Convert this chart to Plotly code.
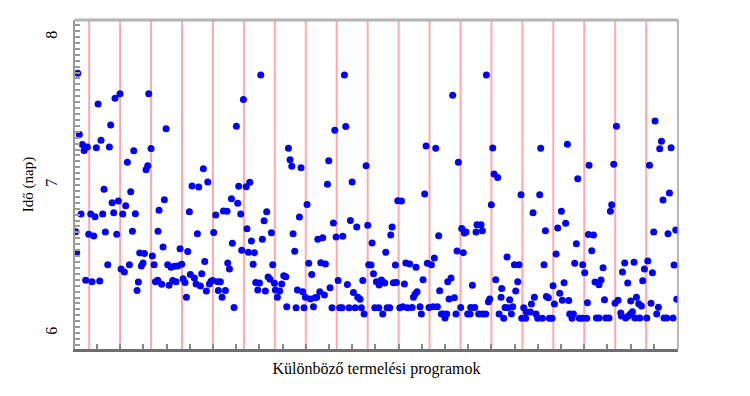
import plotly.graph_objects as go

# Program index (x) and time in days (y) for each simulated run
x_vals = [
    5.2, 59.9, 53.4, 97.0, 31.5, 47.8, 7.3, 35.3, 11.2, 17.7, 13.4, 29.3, 46.1, 77.6, 100.0, 69.4, 95.7, 93.5,
    39.2, 73.7, 57.8, 49.6, 67.2, 9.5, 22.0, 27.6, 37.5, 51.7, 63.4, 79.7, 110.3, 2.6, 19.4, 25.9, 40.9, 55.6,
    75.9, 109.0, 3.9, 85.3, 91.4, 101.7, 44.0, 61.2, 65.5, 72.0, 89.6, 87.5, 103.9, 15.5, 23.7, 33.6, 83.6,
    81.9, 105.6, 108.6,
    119.4, 219.4, 210.3, 167.6, 173.3, 153.0, 161.6, 213.3, 223.0, 117.2, 149.5, 203.9, 212.0, 183.6, 193.5,
    198.2, 215.9, 159.9, 181.0, 224.0, 115.5, 137.5, 147.4, 205.1, 217.2, 121.5, 125.8, 130.1, 134.5, 139.6,
    169.4, 199.1, 201.3, 113.8, 123.3, 128.0, 132.3, 141.4, 143.9, 150.8, 156.0, 158.2, 163.8, 165.5, 171.5,
    175.4, 177.6, 179.7, 186.2, 189.6, 187.0, 196.1, 191.8, 145.7, 207.3,
    241.8, 227.6, 249.5, 246.1, 255.6, 229.7, 243.9, 225.8, 233.6, 231.9, 257.3, 235.3, 240.1, 251.3, 253.8,
    259.5, 237.9, 247.8, 260.7, 266.3, 263.3, 268.9, 271.5, 274.1, 277.6, 279.7, 281.9, 293.9, 329.7, 328.0,
    301.7, 291.8, 283.6, 285.7, 315.5, 321.9, 335.7, 303.8, 307.7, 319.4, 325.4, 289.2, 296.1, 299.5, 306.0,
    312.0, 314.2, 318.1, 324.1, 331.4, 275.4, 287.5, 297.8, 309.9, 333.9,
    350.0, 337.5, 351.7, 378.0, 359.9, 339.2, 347.8, 357.7, 365.9, 380.1, 385.7, 418.9, 423.7, 411.6, 409.9,
    403.4, 415.9, 381.4, 384.4, 387.5, 341.8, 353.8, 373.7, 361.6, 367.2, 370.2, 391.3, 394.8, 397.8, 400.4,
    402.1, 413.3, 417.2, 427.5, 429.3, 434.4, 442.6, 439.2, 441.3, 443.9, 343.9, 346.9, 356.0, 363.8, 371.9,
    375.4, 389.2, 394.4, 399.5, 405.1, 408.6, 421.5, 425.4, 431.4, 437.5,
    533.5, 489.9, 455.5, 468.0, 497.3, 541.7, 543.4, 548.1, 453.7, 539.9, 471.8, 501.6, 505.0, 507.2, 520.1,
    521.4, 526.6, 528.3, 495.5, 503.7, 466.2, 457.2, 462.4, 451.6, 473.1, 483.5, 487.8, 515.4, 545.5, 553.3,
    485.2, 492.1, 536.1, 537.8, 552.4, 447.7, 459.3, 464.5, 470.1, 449.4, 475.3, 477.9, 480.0, 482.2, 494.2,
    500.3, 509.3, 512.4, 513.2, 518.4, 523.6, 528.3, 532.6, 549.9, 555.9,
    603.7, 638.2, 666.2, 651.6, 578.3, 602.4, 593.8, 630.4, 636.0, 609.8, 625.7, 665.4, 649.8, 560.2, 569.7,
    575.7, 608.0, 623.6, 647.7, 658.0, 660.6, 574.0, 571.4, 563.6, 595.5, 611.1, 613.6, 619.7, 628.3, 633.9,
    631.7, 639.9, 621.4, 557.6, 561.1, 567.5, 565.8, 581.7, 585.2, 590.4, 591.7, 597.7, 599.8, 605.9, 579.2,
    584.3, 614.9, 618.4, 641.2, 644.2, 646.0, 653.7, 657.6, 663.2, 664.1,
    671.9, 669.7, 673.9, 679.1, 681.7, 684.3, 686.1, 675.7, 679.1, 687.8, 692.0, 698.1, 693.8, 695.5, 701.6,
    699.8, 703.7, 707.2, 708.1, 709.4, 712.3, 713.6, 716.2, 717.1, 719.7, 722.3, 720.1, 724.4, 725.6, 727.5,
    730.4, 731.7, 733.9, 735.6, 737.8, 740.8, 742.1, 744.3, 746.3, 748.1, 749.8, 751.5, 753.7, 755.9, 759.8,
    757.6, 761.8, 763.1, 766.6, 768.3, 770.1, 772.2, 774.8, 776.1, 778.3, 779.6,
]
y_vals = [
    7.755, 7.617, 7.586, 7.617, 7.547, 7.405, 7.342, 7.302, 7.273, 7.257, 7.234, 7.252, 7.257, 7.232, 7.246,
    7.153, 7.131, 7.104, 6.971, 6.955, 6.892, 6.881, 6.860, 6.804, 6.804, 6.786, 6.804, 6.813, 6.804, 6.806,
    6.829, 6.685, 6.667, 6.656, 6.683, 6.667, 6.687, 6.687, 6.543, 6.541, 6.538, 6.520, 6.462, 6.433, 6.412,
    6.462, 6.473, 6.453, 6.462, 6.356, 6.347, 6.352, 6.345, 6.288, 6.347, 6.356,
    7.381, 7.577, 7.397, 7.110, 7.020, 6.993, 6.987, 6.991, 6.989, 6.901, 6.820, 6.908, 6.876, 6.797, 6.824,
    6.822, 6.804, 6.671, 6.680, 6.705, 6.581, 6.570, 6.550, 6.606, 6.559, 6.462, 6.444, 6.451, 6.453, 6.464,
    6.484, 6.473, 6.433, 6.329, 6.322, 6.354, 6.347, 6.367, 6.342, 6.396, 6.372, 6.331, 6.318, 6.401, 6.284,
    6.331, 6.349, 6.354, 6.347, 6.347, 6.288, 6.288, 6.241, 6.241, 6.173,
    7.743, 7.018, 6.820, 6.759, 6.678, 6.622, 6.633, 6.545, 6.543, 6.464, 6.462, 6.342, 6.338, 6.378, 6.363,
    6.336, 6.291, 6.284, 6.291, 6.284, 6.241, 6.331, 6.387, 6.381, 7.248, 7.171, 7.126, 7.117, 7.164, 7.005,
    6.869, 6.784, 6.671, 6.552, 6.633, 6.644, 6.743, 6.471, 6.396, 6.475, 6.466, 6.291, 6.279, 6.241, 6.230,
    6.239, 6.241, 6.279, 6.257, 6.306, 6.178, 6.171, 6.171, 6.178, 6.171,
    7.743, 7.370, 7.395, 7.131, 7.020, 6.649, 6.653, 6.761, 6.716, 6.728, 6.608, 6.894, 6.892, 6.716, 6.662,
    6.545, 6.460, 6.462, 6.460, 6.401, 6.354, 6.327, 6.354, 6.273, 6.241, 6.228, 6.347, 6.325, 6.358, 6.342,
    6.338, 6.340, 6.342, 6.331, 6.473, 6.466, 6.444, 6.241, 6.264, 6.279, 6.171, 6.171, 6.171, 6.171, 6.171,
    6.129, 6.171, 6.171, 6.129, 6.171, 6.171, 6.171, 6.178, 6.171, 6.173,
    7.743, 7.606, 7.264, 7.248, 7.153, 7.250, 7.075, 7.050, 6.939, 6.867, 6.658, 6.707, 6.676, 6.683, 6.683,
    6.732, 6.732, 6.691, 6.554, 6.543, 6.507, 6.471, 6.462, 6.360, 6.286, 6.347, 6.372, 6.322, 6.360, 6.300,
    6.230, 6.239, 6.212, 6.230, 6.241, 6.178, 6.173, 6.178, 6.178, 6.129, 6.129, 6.129, 6.102, 6.129, 6.129,
    6.173, 6.129, 6.129, 6.173, 6.173, 6.129, 6.129, 6.129, 6.129, 6.100,
    7.248, 7.275, 7.133, 7.043, 6.935, 6.935, 6.813, 6.822, 6.741, 6.691, 6.709, 6.665, 6.604, 6.514, 6.462,
    6.462, 6.462, 6.534, 6.471, 6.462, 6.408, 6.347, 6.284, 6.225, 6.241, 6.246, 6.239, 6.320, 6.268, 6.340,
    6.221, 6.219, 6.196, 6.173, 6.171, 6.178, 6.129, 6.171, 6.142, 6.142, 6.196, 6.129, 6.100, 6.100, 6.100,
    6.100, 6.100, 6.100, 6.129, 6.100, 6.129, 6.100, 6.100, 6.100, 6.205,
    6.662, 6.556, 6.345, 6.326, 6.358, 6.441, 6.225, 6.101, 6.101, 6.101, 6.101, 7.140, 6.822, 6.867, 7.397,
    6.201, 6.221, 6.135, 6.115, 6.412, 6.473, 6.101, 6.338, 6.115, 6.128, 6.144, 6.216, 6.478, 6.101, 6.241,
    6.198, 6.101, 6.182, 6.353, 6.432, 6.101, 6.486, 7.133, 6.201, 6.407, 6.682, 7.432, 6.128, 6.174, 7.295,
    7.245, 6.899, 6.101, 6.101, 6.671, 6.946, 7.252, 6.101, 6.459, 6.696, 6.228,
]

# Group separators (every 40 programs) and axis settings
group_size = 40
first_separator = 20
n_separators = 19
x_range = [1.68, 781.2]
y_range = [5.892, 8.115]
y_ticks = [6, 7, 8]

fig = go.Figure()
fig.add_trace(go.Scatter(
    x=x_vals, y=y_vals, mode="markers",
    marker=dict(color="#0000ff", size=7, line=dict(width=0)),
    hoverinfo="x+y",
))

shapes = []
for k in range(n_separators):
    xv = first_separator + k * group_size
    shapes.append(dict(type="line", xref="x", yref="paper", x0=xv, x1=xv, y0=0, y1=1,
                       line=dict(color="#ffaaaa", width=2), layer="below"))
# top and right frame lines
shapes.append(dict(type="line", xref="paper", yref="paper", x0=0, x1=1, y0=1, y1=1,
                   line=dict(color="#b4b4b4", width=3)))
shapes.append(dict(type="line", xref="paper", yref="paper", x0=1, x1=1, y0=0, y1=1,
                   line=dict(color="#a0a0a0", width=1.5)))

# the page body adds an 8px offset, so margins are compensated
fig.update_layout(
    width=750, height=396,
    margin=dict(l=67, r=80, t=12, b=55),
    plot_bgcolor="white", paper_bgcolor="white",
    showlegend=False,
    font=dict(family="Liberation Serif", size=15, color="black"),
    shapes=shapes,
    xaxis=dict(
        range=x_range, showgrid=False, zeroline=False, automargin=False,
        showline=True, linecolor="#6e6e6e", linewidth=3,
        ticks="inside", tick0=0, dtick=30, ticklen=5, tickwidth=1.5, tickcolor="#888888",
        showticklabels=False,
        title=dict(text="Különböző termelési programok", font=dict(size=16), standoff=12),
    ),
    yaxis=dict(
        range=y_range, showgrid=False, zeroline=False, automargin=False,
        showline=True, linecolor="#9a9a9a", linewidth=1.5,
        tickmode="array", tickvals=y_ticks, ticktext=[str(v) for v in y_ticks],
        tickangle=-90, ticks="inside", ticklen=5, tickcolor="#9a9a9a", tickwidth=1.5,
        tickfont=dict(size=16), ticklabelstandoff=10,
        minor=dict(dtick=0.04, ticks="inside", ticklen=5, tickcolor="#9a9a9a", tickwidth=1.5, showgrid=False),
        title=dict(text="Idő (nap)", font=dict(size=15), standoff=6),
    ),
)

fig.write_html("out.html")
